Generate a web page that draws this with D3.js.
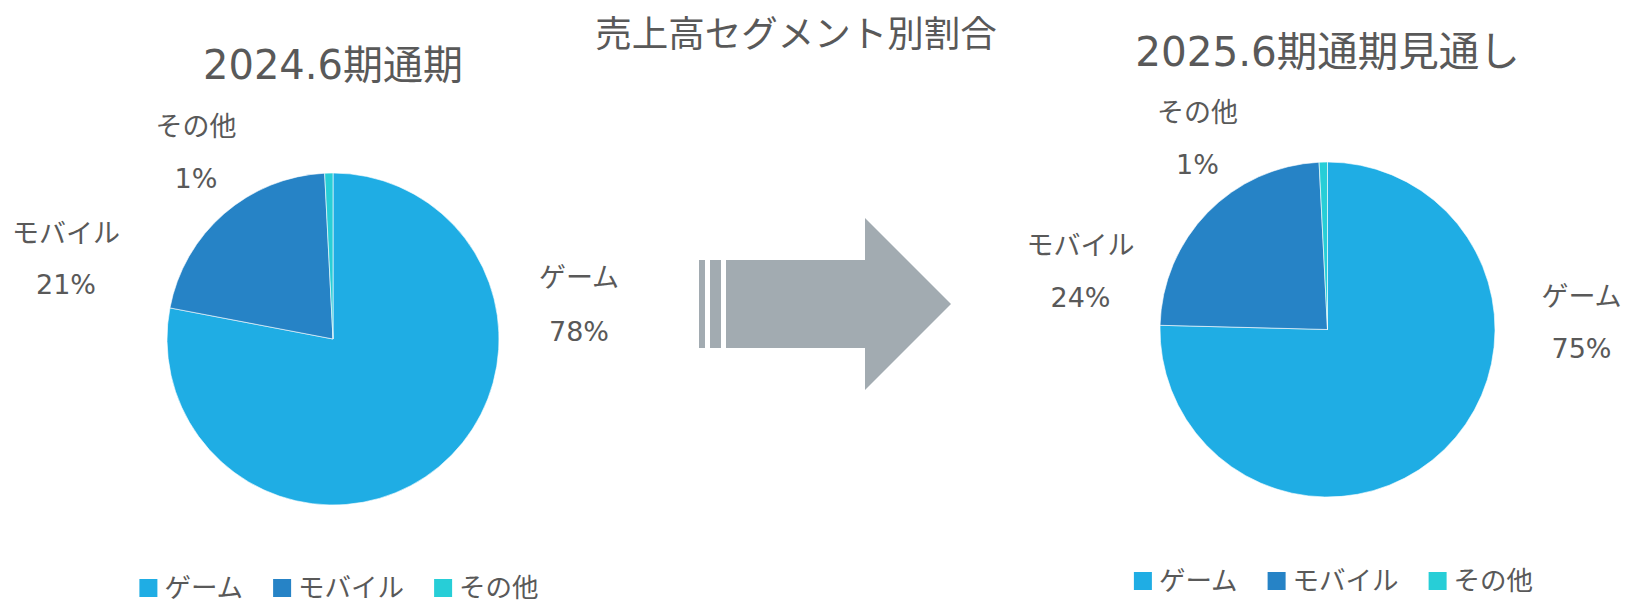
<!DOCTYPE html>
<html lang="ja">
<head>
  <meta charset="UTF-8">
  <title>売上高セグメント別割合</title>
  <script src="https://d3js.org/d3.v7.min.js"></script>
  <style>
    body {
      margin: 0;
      background: #fff;
      font-family: "DejaVu Sans", "Noto Sans CJK JP", sans-serif;
    }
    text {
      fill: #595959;
    }
  </style>
</head>
<body>
  <div id="chart"></div>

  <script>
    // data
    const segments = ["ゲーム", "モバイル", "その他"];
    const share2024 = [78.0, 21.2, 0.8];
    const share2025 = [75.4, 23.8, 0.8];
    const pieTitles = ["2024.6期通期", "2025.6期通期見通し"];
    const mainTitle = "売上高セグメント別割合";

    const colors = ["#1FADE4", "#2683C6", "#27CED7"];
    const color = d3.scaleOrdinal().domain(segments).range(colors);

    const W = 1630, H = 603;

    const svg = d3.select("#chart")
                  .append("svg")
                  .attr("width", W)
                  .attr("height", H);

    svg.append("text")
       .attr("x", 796)
       .attr("y", 34)
       .attr("dy", "0.35em")
       .attr("text-anchor", "middle")
       .style("font-size", "36.5px")
       .text(mainTitle);

    // layout for each pie: centre, radius, title, label offsets (name / value)
    const pies = [
      {
        values: share2024, title: pieTitles[0],
        cx: 333, cy: 339, r: 166, titleY: 65, titleSize: 40, legendY: 588,
        labelPos: [[246, -61, -7], [-267, -105, -54], [-137, -212, -160]]
      },
      {
        values: share2025, title: pieTitles[1],
        cx: 1327.5, cy: 329.5, r: 167.5, titleY: 52, titleSize: 40.5, legendY: 581,
        labelPos: [[254, -33, 19], [-247, -84, -32], [-130, -217, -165]]
      }
    ];

    const pie = d3.pie().sort(null).value(d => d.value);

    pies.forEach(p => {
      const data = segments.map((s, i) => ({ name: s, value: p.values[i] }));
      const arc = d3.arc().innerRadius(0).outerRadius(p.r);

      const g = svg.append("g")
                   .attr("transform", `translate(${p.cx},${p.cy})`);

      g.selectAll("path")
       .data(pie(data))
       .enter()
       .append("path")
       .attr("d", arc)
       .attr("fill", d => color(d.data.name))
       .attr("stroke", "#ffffff")
       .attr("stroke-width", 0.6);

      // title
      svg.append("text")
         .attr("x", p.cx)
         .attr("y", p.titleY)
         .attr("dy", "0.35em")
         .attr("text-anchor", "middle")
         .style("font-size", p.titleSize + "px")
         .text(p.title);

      // data labels
      const lab = g.selectAll(".lab")
                   .data(data)
                   .enter()
                   .append("g")
                   .attr("class", "lab");

      lab.append("text")
         .attr("x", (d, i) => p.labelPos[i][0])
         .attr("y", (d, i) => p.labelPos[i][1])
         .attr("dy", "0.35em")
         .attr("text-anchor", "middle")
         .style("font-size", "27px")
         .text(d => d.name);

      lab.append("text")
         .attr("x", (d, i) => p.labelPos[i][0])
         .attr("y", (d, i) => p.labelPos[i][2])
         .attr("dy", "0.35em")
         .attr("text-anchor", "middle")
         .style("font-size", "27px")
         .text(d => `${Math.round(d.value)}%`);

      // legend
      const leg = svg.append("g");
      let x = 0;
      segments.forEach(s => {
        const item = leg.append("g").attr("transform", `translate(${x},0)`);
        item.append("rect")
            .attr("x", 0)
            .attr("y", p.legendY - 9)
            .attr("width", 18)
            .attr("height", 18)
            .attr("fill", color(s));
        const t = item.append("text")
            .attr("x", 25)
            .attr("y", p.legendY)
            .attr("dy", "0.35em")
            .style("font-size", "26.5px")
            .text(s);
        x += 25 + t.node().getComputedTextLength() + 30;
      });
      const legW = x - 30;
      leg.attr("transform", `translate(${p.cx + 6 - legW / 2},0)`);
    });

    // arrow between the pies
    const arrow = svg.append("g").attr("fill", "#A2ABB1");
    arrow.append("rect").attr("x", 699).attr("y", 260).attr("width", 6).attr("height", 88);
    arrow.append("rect").attr("x", 710).attr("y", 260).attr("width", 11).attr("height", 88);
    arrow.append("path")
         .attr("d", "M726,260 L865,260 L865,218 L951,304 L865,390 L865,348 L726,348 Z");
  </script>
</body>
</html>
